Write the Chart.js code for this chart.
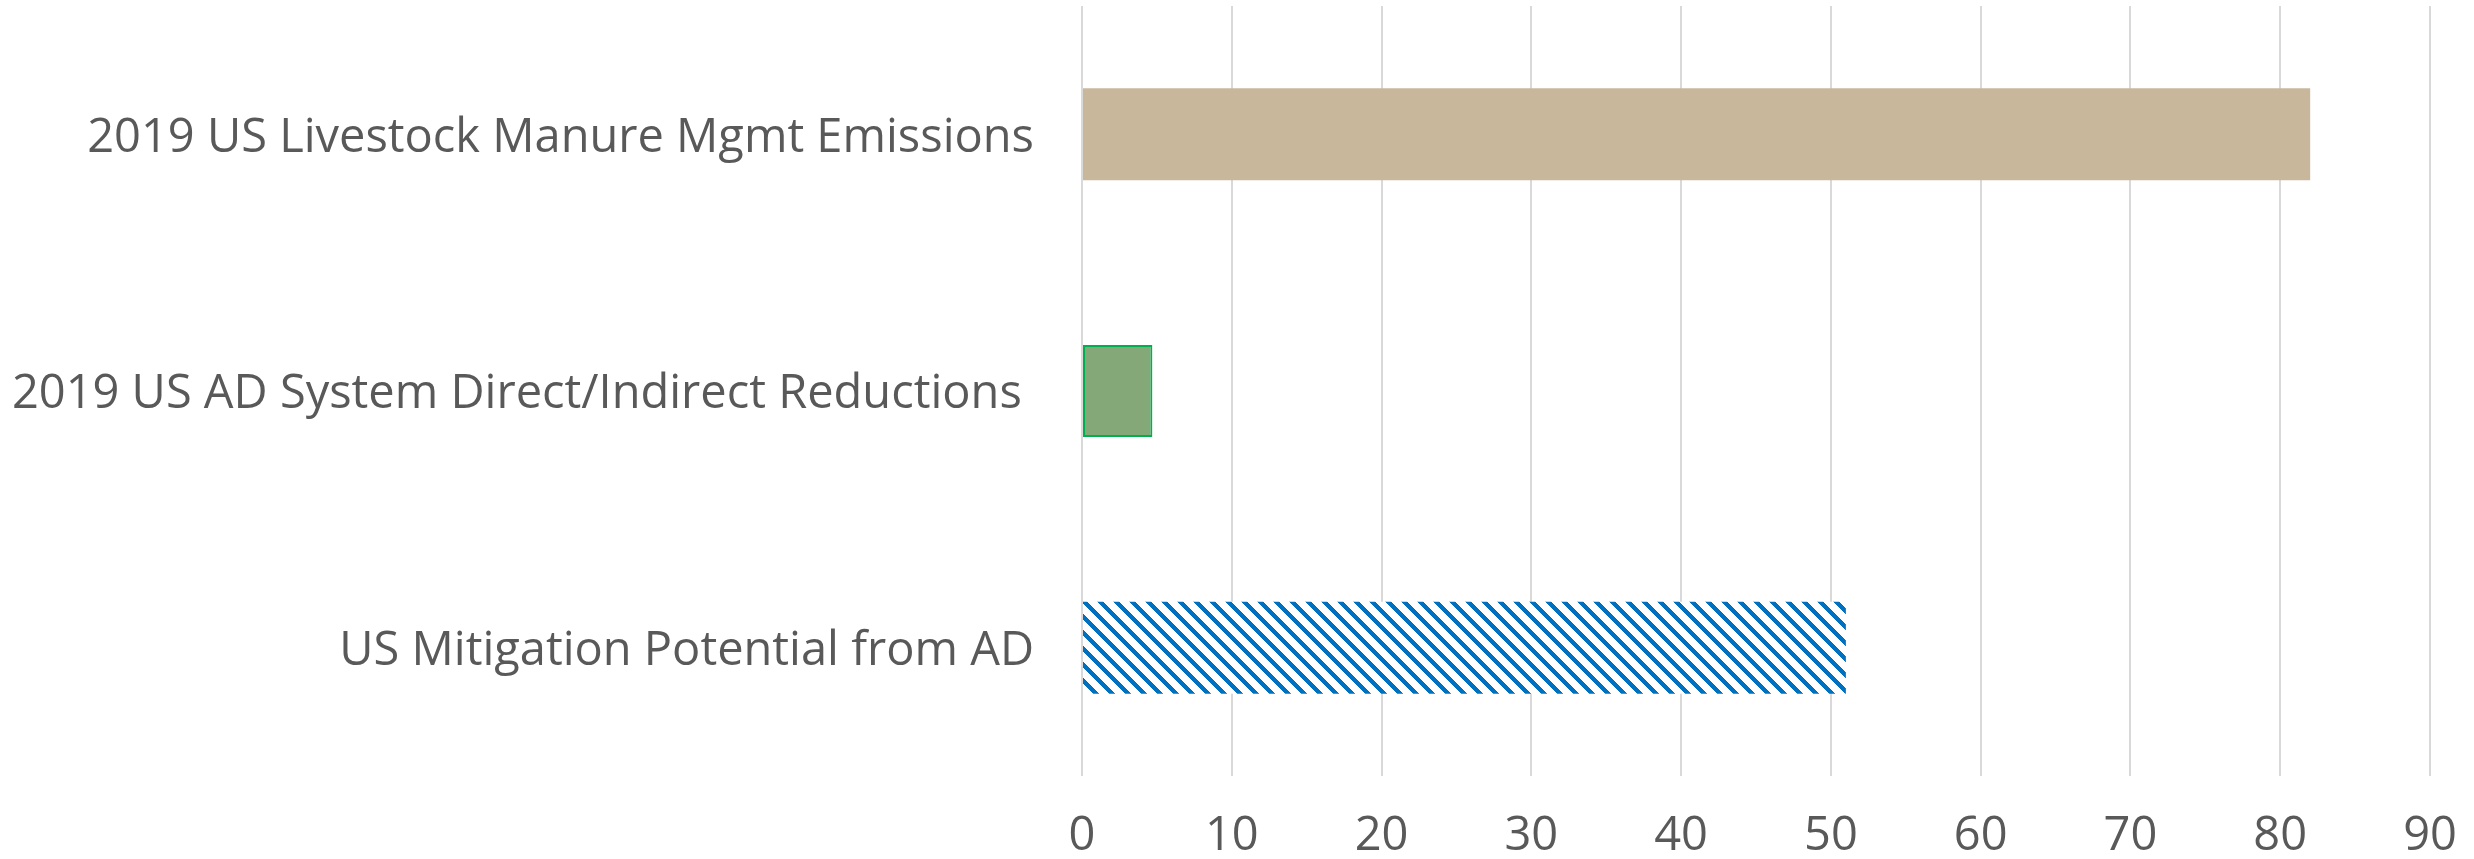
<!DOCTYPE html>
<html>
<head>
<meta charset="utf-8">
<script src="https://cdn.jsdelivr.net/npm/chart.js@4/dist/chart.umd.min.js"></script>
<style>
  html, body { margin: 0; padding: 0; background: #ffffff; overflow: hidden; }
  #c { display: block; }
</style>
</head>
<body>
<canvas id="c" width="2474" height="859"></canvas>
<script>
// Categories (top to bottom) and their values (MMT CO2e)
const categories = [
  '2019 US Livestock Manure Mgmt Emissions',
  '2019 US AD System Direct/Indirect Reductions ',
  'US Mitigation Potential from AD'
];
const values = [82.0, 4.7, 51.0];
const tickValues = [0, 10, 20, 30, 40, 50, 60, 70, 80, 90];

const FONT = '"Open Sans", Lato, sans-serif';
const TEXT = '#595959';

// Wide downward-diagonal hatch in blue on white
function hatchPattern(ctx, color) {
  const size = 16;
  const tile = document.createElement('canvas');
  tile.width = size; tile.height = size;
  const g = tile.getContext('2d');
  g.fillStyle = '#ffffff';
  g.fillRect(0, 0, size, size);
  g.fillStyle = color;
  for (let y = 0; y < size; y++) {
    for (let x = 0; x < size; x++) {
      if ((((x - y) % size) + size) % size < 6) g.fillRect(x, y, 1, 1);
    }
  }
  return ctx.createPattern(tile, 'repeat');
}

const canvas = document.getElementById('c');
const ctx = canvas.getContext('2d');

new Chart(ctx, {
  type: 'bar',
  data: {
    labels: categories,
    datasets: [{
      data: values,
      backgroundColor: ['#C9B79C', '#84A877', hatchPattern(ctx, '#0070C0')],
      borderColor: ['rgba(0,0,0,0)', '#00B050', 'rgba(0,0,0,0)'],
      borderWidth: [0, 2, 0],
      borderSkipped: false,
      barPercentage: 1,
      categoryPercentage: 0.3585
    }]
  },
  options: {
    indexAxis: 'y',
    responsive: false,
    animation: false,
    devicePixelRatio: 1,
    layout: { padding: { left: 0, right: 44, top: 6, bottom: 0 } },
    plugins: {
      legend: { display: false },
      tooltip: { enabled: false }
    },
    scales: {
      x: {
        min: 0,
        max: 90,
        afterBuildTicks: (scale) => { scale.ticks = tickValues.map(v => ({ value: v })); },
        afterFit: (scale) => { scale.height = 83; scale.paddingLeft = 0; scale.paddingRight = 0; },
        grid: { color: '#D9D9D9', lineWidth: 2, drawTicks: false },
        border: { display: false },
        ticks: {
          padding: 32,
          color: TEXT,
          font: { family: FONT, size: 47 }
        }
      },
      y: {
        afterFit: (scale) => {
          scale.width = 1082;
          scale.paddingTop = 0;
          scale.paddingBottom = 0;
        },
        grid: { display: false, drawTicks: false },
        border: { display: false },
        ticks: {
          padding: 48,
          labelOffset: 4,
          color: TEXT,
          font: { family: FONT, size: 47 }
        }
      }
    }
  }
});
</script>
</body>
</html>
